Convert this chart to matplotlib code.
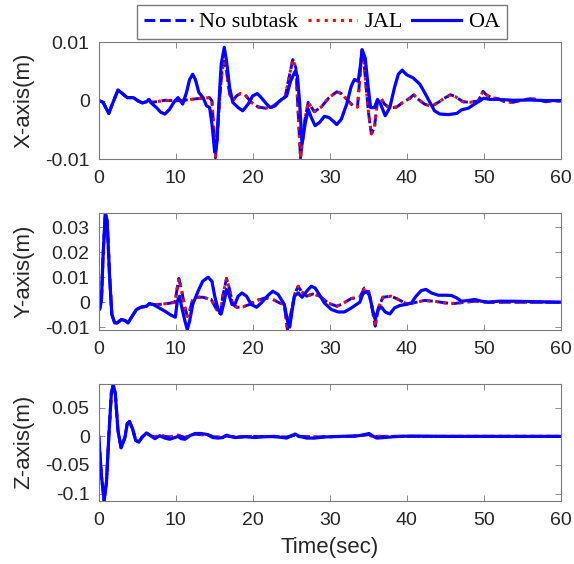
import numpy as np
import matplotlib
matplotlib.use('Agg')
import matplotlib.pyplot as plt

# values, y values in units of 1e-3 m
# ---- X axis ----
x_oa_t = [0, 0.56, 1.3, 1.86, 2.5, 3.16, 3.7, 4.5, 5.1, 5.67, 6.2, 6.5, 6.8, 7.5, 8.05, 8.6, 9.2, 9.8,
          10.3, 10.9, 11.4, 11.8, 12.2, 12.55, 13.0, 13.55, 14.0, 14.4, 14.7, 15.06, 15.3, 15.6, 15.9,
          16.3, 16.6, 17.0, 17.4, 18.1, 18.7, 19.4, 20.0, 20.6, 21.1, 21.8, 22.3, 22.9, 23.5, 24.4,
          24.9, 25.5, 25.8, 26.1, 26.4, 26.8, 27.2, 27.6, 28.1, 28.7, 29.3, 29.9, 30.6, 30.9, 31.5,
          32.2, 32.8, 33.2, 33.7, 34.0, 34.2, 34.6, 35.0, 35.3, 35.8, 36.2, 36.6, 37.2, 37.8, 38.4,
          38.9, 39.4, 40.0, 40.8, 41.7, 42.3, 43.0, 43.6, 44.3, 45.4, 46.5, 47.1, 48.0, 48.8, 49.5,
          50.0, 50.8, 51.9, 53.8, 56, 58, 60]
x_oa_v = [0, -0.3, -2.2, -0.3, 1.8, 1.1, 0.5, 0.5, -0.05, -0.4, -0.2, 0.2, -0.4, -1.2, -2.0, -2.3, -1.5, -0.2,
          0.5, -0.6, 1.4, 3.6, 4.5, 3.6, 1.4, 0.5, -0.9, -1.2, -4.0, -8.8, -7.7, -0.6, 6.2,
          9.1, 6.7, 2.2, -0.3, -1.2, -1.75, -0.6, 0.8, 1.2, 0.5, -0.6, -1.2, -0.9, -0.05, 0.8,
          3.3, 5.0, 4.2, -0.6, -7.5, -4.0, -1.5, -2.9, -4.3, -3.7, -2.7, -2.9, -3.7, -4.1, -3.2,
          -0.6, 2.5, 3.6, 3.3, 6.2, 8.7, 7.3, 2.2, -1.2, -1.2, 0.2, -0.6, -2.6, -1.2, 2.2,
          4.5, 5.2, 4.4, 3.9, 2.8, 1.4, -0.3, -1.75, -2.3, -2.4, -2.2, -1.6, -1.3, -0.6, -0.05,
          0.4, 0.2, 0.2, 0.05, 0.1, 0, 0]

x_jal_t = [0, 0.56, 1.3, 1.86, 2.5, 3.16, 3.7, 4.5, 5.1, 5.67, 6.2, 6.5, 6.8, 7.5, 8.6, 9.9, 11, 12,
           13.3, 14.4, 14.7, 15.0, 15.15, 15.4, 15.7, 16.0, 16.3, 16.6, 17.0, 17.4, 17.9, 18.4, 19.0,
           19.8, 20.7, 21.6, 22.4, 23.3, 24.2, 24.8, 25.2, 25.6, 25.95, 26.2, 26.45, 26.75, 27.2,
           27.5, 28.0, 28.9, 29.9, 30.9, 31.5, 32.4, 33.0, 33.6, 33.9, 34.2, 34.5, 35.0, 35.4, 35.8,
           36.2, 36.6, 37.1, 37.8, 38.7, 39.5, 40.4, 40.9, 41.5, 42.3, 43.2, 44.1, 45.0, 45.7, 46.4,
           47.3, 48.2, 49.3, 49.9, 50.3, 51.0, 51.9, 52.7, 53.8, 55, 56, 57, 58, 59, 60]
x_jal_v = [0, -0.3, -2.2, -0.3, 1.8, 1.1, 0.5, 0.5, -0.05, -0.4, -0.2, 0.2, -0.3, -0.2, 0.05, -0.05, 0.05, 0.2,
           0.4, 0.5, -0.05, -6.3, -9.8, -6.3, 0.5, 5.0, 6.7, 5.0, 1.1, -0.05, 0.8, 1.2, 1.0,
           -0.3, -1.1, -1.3, -1.2, -0.3, 0.6, 4.5, 7.0, 5.6, -3.4, -9.8, -7.0, -3.4, -0.3,
           -0.9, -1.9, -1.1, 0.5, 1.5, 1.2, -0.05, -0.9, -1.1, 3.9, 8.9, 5.6, -1.75, -5.7, -4.6,
           -0.05, 0.5, -0.6, -1.3, -1.1, -0.3, 0.4, 1.0, 0.2, -0.6, -1.0, -0.3, 0.5, 1.0, 0.6,
           -0.2, -0.3, -0.05, 1.6, 1.0, 0.5, 0.3, -0.2, -0.3, 0.1, 0.3, 0.2, -0.2, 0, -0.1]

# ---- Y axis ----
y_oa_t = [0, 0.1, 0.35, 0.55, 0.86, 1.1, 1.4, 1.7, 2.07, 2.4, 2.94, 3.4, 3.8, 4.2, 4.9, 5.5, 6.2, 6.6,
          7.05, 7.7, 8.6, 9.4, 9.95, 10.2, 10.5, 10.7, 11.2, 11.5, 11.8, 12.2, 12.9, 13.5, 14.2, 14.7,
          15.06, 15.5, 15.9, 16.3, 16.6, 16.9, 17.3, 17.7, 18.1, 18.6, 19.2, 19.8, 20.5, 21.1, 22.0,
          22.6, 23.3, 24.1, 24.6, 24.8, 25.1, 25.4, 25.9, 26.4, 27.0, 27.6, 28.1, 28.7, 29.3, 30.2,
          31.1, 31.9, 32.8, 33.9, 34.3, 34.8, 35.2, 35.6, 35.9, 36.3, 36.7, 37.2, 37.8, 38.4, 39.1,
          39.9, 40.6, 41.2, 41.9, 42.5, 43.2, 44.1, 45.0, 45.8, 46.5, 47.1, 48.0, 48.8, 49.7, 50.6,
          51.9, 53.8, 60]
y_oa_v = [0, -2.9, 0.4, 17.7, 35.7, 32.4, 11, -4.9, -8.3, -8.3, -6.9, -7.3, -8.3, -6.3, -2.9, -2.0, -1.6, -0.5,
          -0.9, -2.0, -3.6, -5.2, -6.0, 0.4, 2.4, -0.9, -7.6, -10.9, -7.6, -0.9, 4.4, 8.4, 10.0, 8.4,
          2.4, -2.9, -4.7, 0.4, 5.1, 3.1, -0.9, -0.7, 2.4, 3.7, 2.4, -0.9, -2.0, -0.3, 2.8,
          4.4, 3.1, -0.9, -8.9, -9.9, -3.6, 2.4, 3.7, 2.0, 4.4, 6.4, 5.7, 2.8, -0.3, -2.9,
          -3.9, -3.9, -2.3, 0, 3.3, 4.4, 2.4, -3.6, -6.9, -2.9, -1.9, -3.9, -4.7, -2.3, -1.3,
          -0.9, -0.3, 2.4, 4.7, 5.1, 3.7, 2.8, 2.8, 2.7, 1.7, 0.4, 0.7, 1.1, 0.4, 0,
          0.4, 0.4, 0]

y_jal_t = [0, 0.1, 0.35, 0.55, 0.86, 1.1, 1.4, 1.7, 2.07, 2.4, 2.94, 3.4, 3.8, 4.2, 4.9, 5.5, 6.2, 6.6,
           6.8, 7.7, 9.0, 9.9, 10.2, 10.4, 10.7, 11.2, 11.5, 11.8, 12.2, 12.7, 13.5, 14.6, 15.3, 15.8,
           16.1, 16.6, 17.0, 17.4, 17.9, 18.7, 19.6, 20.5, 21.6, 22.6, 23.5, 24.1, 24.5, 25.1, 25.5,
           25.9, 26.3, 27.0, 27.8, 28.7, 29.8, 30.9, 31.5, 32.8, 33.9, 34.5, 35.0, 35.5, 35.9, 36.3,
           36.9, 38.0, 38.9, 40.0, 40.8, 42.3, 43.6, 45.0, 46.2, 47.5, 48.8, 50.6, 51.9, 60]
y_jal_v = [0, -2.9, 0.4, 17.7, 35.7, 32.4, 11, -4.9, -8.3, -8.3, -6.9, -7.3, -8.3, -6.3, -2.9, -2.0, -1.6, -0.5,
           -0.9, -0.9, -0.5, 0, 5.7, 9.5, 5.7, -2.3, -5.6, -3.6, 1.1, 2.0, 2.0, 1.1, -2.9, -4.7,
           2.4, 9.5, 5.1, -0.9, -2.0, -1.9, -0.9, 0.7, 1.7, 1.1, -0.3, -0.9, -11.0, -2.3, 3.7,
           6.4, 4.4, 2.4, 3.3, 2.4, -0.3, -1.6, -0.9, 1.5, 2.0, 5.7, 5.1, -2.3, -9.6, -2.3,
           2.0, 2.4, 1.1, -0.7, -0.3, 0.7, 0.4, -0.3, -0.5, 0, 0.4, 0, 0, 0]

# ---- Z axis ----
z_oa_t = [0, 0.35, 0.7, 1.0, 1.35, 1.65, 1.9, 2.15, 2.5, 2.9, 3.4, 3.7, 4.0, 4.4, 4.8, 5.2, 5.6, 6.2,
          6.75, 7.3, 7.9, 8.6, 9.2, 9.9, 10.3, 10.7, 11.2, 11.8, 12.5, 13.3, 14.2, 14.8, 15.5, 16.1,
          16.6, 17.0, 17.7, 19.0, 20.3, 21.6, 22.8, 24.4, 25.0, 25.5, 26.1, 26.3, 27.0, 28.0, 29.3,
          31.5, 33.7, 34.5, 35.1, 35.6, 36.1, 37.1, 38.9, 40.7, 45.1, 60]
z_oa_v = [0, -69, -112, -81, 10, 77, 90, 75, 10, -20, -2, 22, 26, 13, -7, -10, -2, 6,
          1, -4, 1, -3, -5, -2, 0, -4, -5, 1, 5, 5, 3, -2, -3, -2,
          2, 0, -2, -0.6, -2, -0.6, 0, -3, 1, 4, -0.6, -0.6, -3, -3, -1,
          0, 1, 3, 5, 0.5, -3, -2, 0, 0.5, 0, 0]

z_jal_t = [0, 0.35, 0.7, 1.0, 1.35, 1.65, 1.9, 2.15, 2.5, 2.9, 3.4, 3.7, 4.0, 4.4, 4.8, 5.2, 5.6, 6.2,
           6.75, 7.3, 7.9, 8.6, 9.2, 10.3, 11.2, 12.0, 12.5, 13.3, 14.2, 15.0, 16.1, 16.6, 17.7, 20,
           24.4, 25.5, 26.1, 28, 33, 35.1, 35.6, 36, 60]
z_jal_v = [0, -69, -112, -81, 10, 77, 90, 75, 10, -20, -2, 22, 26, 13, -7, -10, -2, 6,
           1, -1, 2, 0, -1, 2, -2, 2, 4, 3, 2, -1, -1, 1, -1, 0,
           -1, 2, 0, -1, 0, 3, -1, 0, 0]

# no-subtask run lies under the JAL curve everywhere
x_ns_t, x_ns_v = x_jal_t, x_jal_v
y_ns_t, y_ns_v = y_jal_t, y_jal_v
z_ns_t, z_ns_v = z_jal_t, z_jal_v

ylabels = ['X-axis(m)', 'Y-axis(m)', 'Z-axis(m)']
ylims = [(-0.01, 0.01), (-0.011, 0.0358), (-0.1125, 0.0915)]
yticks = [[-0.01, 0, 0.01], [-0.01, 0, 0.01, 0.02, 0.03], [-0.1, -0.05, 0, 0.05]]
yticklabels = [['-0.01', '0', '0.01'], ['-0.01', '0', '0.01', '0.02', '0.03'],
               ['-0.1', '-0.05', '0', '0.05']]


def main():
    plt.rcParams['font.family'] = ['Liberation Sans', 'DejaVu Sans']
    fig = plt.figure(figsize=(5.74, 5.64), dpi=100)
    boxes = [[0.172, 0.718, 0.805, 0.2074],
             [0.172, 0.4154, 0.805, 0.2074],
             [0.172, 0.1122, 0.805, 0.2069]]
    series = [(x_ns_t, x_ns_v, x_jal_t, x_jal_v, x_oa_t, x_oa_v),
              (y_ns_t, y_ns_v, y_jal_t, y_jal_v, y_oa_t, y_oa_v),
              (z_ns_t, z_ns_v, z_jal_t, z_jal_v, z_oa_t, z_oa_v)]
    handles = None
    for i, box in enumerate(boxes):
        ax = fig.add_axes(box)
        ns_t, ns_v, jal_t, jal_v, oa_t, oa_v = series[i]
        h1, = ax.plot(ns_t, np.array(ns_v) * 1e-3, '--', color='b', lw=2.1, label='No subtask')
        h2, = ax.plot(jal_t, np.array(jal_v) * 1e-3, ':', color='r', lw=2.2, label='JAL')
        h3, = ax.plot(oa_t, np.array(oa_v) * 1e-3, '-', color='b', lw=2.3, label='OA')
        if handles is None:
            handles = [h1, h2, h3]
        ax.set_xlim(0, 60)
        ax.set_ylim(*ylims[i])
        ax.set_xticks([0, 10, 20, 30, 40, 50, 60])
        ax.set_yticks(yticks[i])
        ax.set_yticklabels(yticklabels[i])
        ax.tick_params(direction='in', top=True, right=True, length=4, width=0.6,
                       colors='#7a7a7a', labelcolor='#262626', labelsize=14)
        ax.tick_params(axis='x', pad=8)
        ax.tick_params(axis='y', pad=6.5)
        for s in ax.spines.values():
            s.set_color('#7a7a7a')
            s.set_linewidth(0.8)
        ax.set_ylabel(ylabels[i], fontsize=16, color='#262626')
        ax.yaxis.set_label_coords(-0.14, 0.5)
        if i == 2:
            ax.set_xlabel('Time(sec)', fontsize=16, color='#262626', labelpad=6)

    fig.legend(handles, ['No subtask', 'JAL', 'OA'], loc='upper center',
               bbox_to_anchor=(0.561, 0.991), ncol=3,
               prop={'family': 'Liberation Serif', 'size': 16},
               frameon=True, fancybox=False, edgecolor='#7a7a7a', framealpha=1,
               borderpad=0.3, handlelength=2.2, handletextpad=0.3,
               columnspacing=0.45, borderaxespad=0)
    fig.savefig('out.png', dpi=100)


if __name__ == '__main__':
    main()
